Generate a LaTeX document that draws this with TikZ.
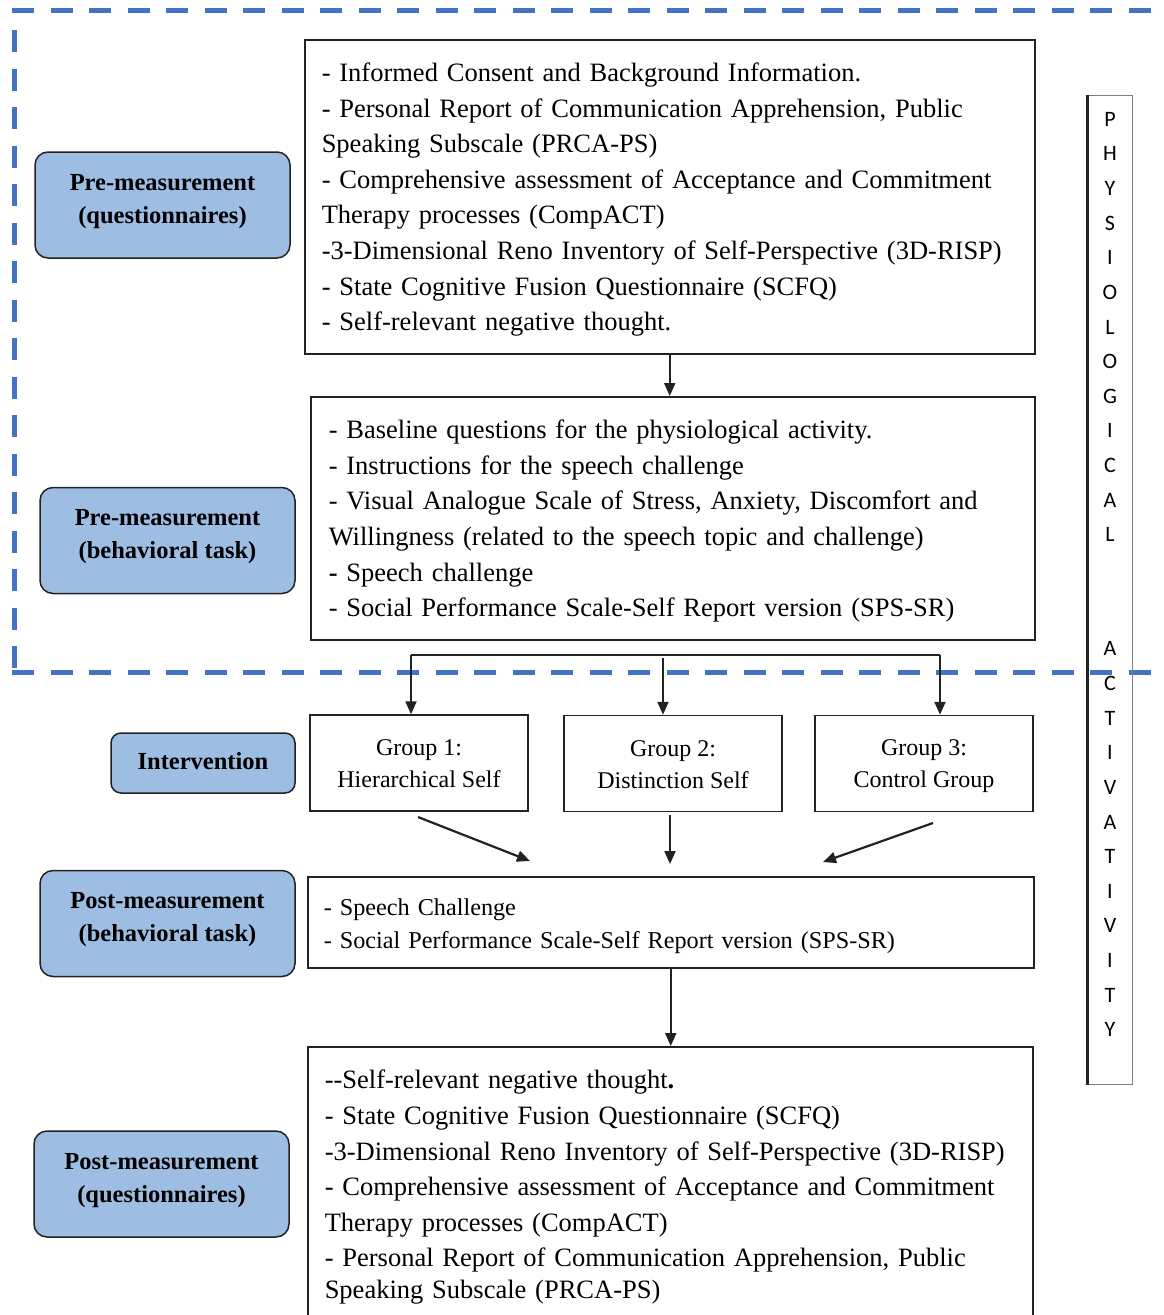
\documentclass[tikz,border=0pt]{standalone}
\usepackage{fontspec}
\setmainfont{Liberation Serif}
\newfontfamily\physfont{Carlito}
\usetikzlibrary{arrows.meta}
\definecolor{dashblue}{HTML}{4472C4}
\definecolor{boxblue}{HTML}{9DBDE3}
\definecolor{edge}{HTML}{222222}
\newcommand\tp[1]{\rule{0pt}{#1pt}}
\newcommand\bt[1]{\rule[-#1pt]{0pt}{#1pt}}
\begin{document}
\begin{tikzpicture}[x=1pt,y=-1pt,
  txtbox/.style={draw=edge, line width=1.5pt, anchor=north west, align=left,
    inner ysep=0pt, font=\fontsize{26.5}{35.6}\selectfont},
  bluebox/.style={draw=edge, fill=boxblue, line width=1.5pt, rounded corners=13pt,
    align=center, minimum width=255pt, minimum height=106pt,
    font=\bfseries\fontsize{24.5}{33}\selectfont},
  groupbox/.style={draw=edge, line width=1.5pt, align=center,
    minimum width=218pt, minimum height=96pt, font=\fontsize{24}{32}\selectfont},
  arr/.style={draw=edge, line width=2.2pt, -{Triangle[length=13pt,width=11pt]}},
  conn/.style={draw=edge, line width=2.2pt},
  frame/.style={draw=dashblue, line width=5pt, dash pattern=on 22pt off 16.5pt}
]
\useasboundingbox (0,0) rectangle (1163,1315);

% dashed frame
\draw[frame] (12,10) -- (1200,10);
\draw[frame] (14,30) -- (14,672);
\draw[frame] (12,672) -- (1200,672);

% text boxes
\node[txtbox, inner xsep=17pt, minimum width=730pt, minimum height=314pt, text width=696pt] (m1) at (304,39) {%
\tp{24.5}- Informed Consent and Background Information.\\
- Personal Report of Communication Apprehension, Public\\
Speaking Subscale (PRCA-PS)\\
- Comprehensive assessment of Acceptance and Commitment\\
Therapy processes (CompACT)\\
-3-Dimensional Reno Inventory of Self-Perspective (3D-RISP)\\
- State Cognitive Fusion Questionnaire (SCFQ)\\
- Self-relevant negative thought.};

\node[txtbox, inner xsep=18pt, minimum width=724pt, minimum height=243pt, text width=688pt] (m2) at (310,396) {%
\tp{24.5}- Baseline questions for the physiological activity.\\
- Instructions for the speech challenge\\
- Visual Analogue Scale of Stress, Anxiety, Discomfort and\\
Willingness (related to the speech topic and challenge)\\
\textbf{-} Speech challenge\\
- Social Performance Scale-Self Report version (SPS-SR)};

\node[txtbox, inner xsep=16pt, minimum width=726pt, minimum height=91pt, text width=694pt,
  font=\fontsize{24.2}{33}\selectfont] (m3) at (307,876) {%
\tp{25}- Speech Challenge\\
- Social Performance Scale-Self Report version (SPS-SR)};

\node[txtbox, inner xsep=17pt, minimum width=725pt, minimum height=277pt, text width=691pt] (m4) at (307,1046) {%
\tp{22.5}-{}-Self-relevant negative thought\textbf{.}\\
- State Cognitive Fusion Questionnaire (SCFQ)\\
-3-Dimensional Reno Inventory of Self-Perspective (3D-RISP)\\
- Comprehensive assessment of Acceptance and Commitment\\
Therapy processes (CompACT)\\
- Personal Report of Communication Apprehension, Public\\[-4pt]
Speaking Subscale (PRCA-PS)};

% blue labels
\node[bluebox] (b1) at (162.5,205) {Pre-measurement\\(questionnaires)\bt{13}};
\node[bluebox] (b2) at (167.5,540.5) {Pre-measurement\\(behavioral task)\bt{13}};
\node[bluebox, minimum width=184pt, minimum height=60pt, rounded corners=10pt] (b3) at (203,763) {Intervention\bt{4}};
\node[bluebox] (b4) at (167.5,923.5) {Post-measurement\\(behavioral task)\bt{13}};
\node[bluebox] (b5) at (161.5,1184) {Post-measurement\\(questionnaires)\bt{13}};

% groups
\node[groupbox] (g1) at (419,763) {\tp{22}Group 1:\\Hierarchical Self\bt{5}};
\node[groupbox] (g2) at (673,763.5) {\tp{22}Group 2:\\Distinction Self\bt{5}};
\node[groupbox] (g3) at (924,763.5) {\tp{22}Group 3:\\Control Group\bt{5}};

% physiological activity bar
\node[draw=gray, line width=1pt, minimum width=44pt, minimum height=989pt, inner sep=0pt] (ph) at (1110,589.5) {};
\draw[draw=edge, line width=2.5pt] (ph.north west) -- (ph.south west);
\node[font=\physfont\fontsize{22}{34.63}\selectfont, align=center, inner sep=0pt] (phtext) at (1110,574.5)
 {P\\H\\Y\\S\\I\\O\\L\\O\\G\\I\\C\\A\\L\\[79.4pt]A\\C\\T\\I\\V\\A\\T\\I\\V\\I\\T\\Y};

% connectors
\draw[arr] (m1.south) -- (m1.south |- m2.north);
\coordinate (bl) at (411,655);
\coordinate (br) at (940,655);
\coordinate (bm) at (663,658);
\draw[conn] (bl) -- (br);
\draw[arr] (bl) -- (bl |- g1.north);
\draw[arr] (bm) -- (bm |- g2.north);
\draw[arr] (br) -- (br |- g3.north);

\coordinate (s1) at (418,817);
\coordinate (e1) at (530,861);
\coordinate (s2) at (670,815);
\coordinate (e2) at (670,864);
\coordinate (s3) at (933,823);
\coordinate (e3) at (823,862);
\draw[arr] (s1) -- (e1);
\draw[arr] (s2) -- (e2);
\draw[arr] (s3) -- (e3);

\draw[arr] (m3.south) -- (m3.south |- m4.north);
\end{tikzpicture}
\end{document}
